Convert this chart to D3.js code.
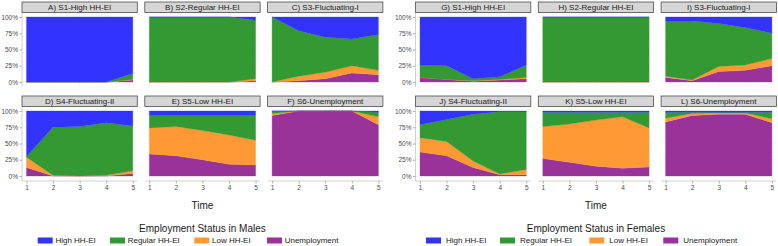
<!DOCTYPE html>
<html>
<head>
<meta charset="utf-8">
<script src="https://cdn.jsdelivr.net/npm/d3@7"></script>
<style>
  body { margin: 0; background: #fff; }
  text { font-family: "Liberation Sans", Arial, sans-serif; }
</style>
</head>
<body>
<div id="chart"></div>
<script>
// chart data: 5 time points, 4 employment states, 6 trajectory panels per sex
const times = [1, 2, 3, 4, 5];
const statuses = ["High HH-EI", "Regular HH-EI", "Low HH-EI", "Unemployment"];
const statusColors = ["#3333ff", "#339933", "#ff9933", "#993399"];
const yTicks = [0, 0.25, 0.5, 0.75, 1];

const maleTitles = ["A) S1-High HH-EI", "B) S2-Regular HH-EI", "C) S3-Fluctuating-I",
                    "D) S4-Fluctuating-II", "E) S5-Low HH-EI", "F) S6-Unemployment"];
const femaleTitles = ["G) S1-High HH-EI", "H) S2-Regular HH-EI", "I) S3-Fluctuating-I",
                      "J) S4-Fluctuating-II", "K) S5-Low HH-EI", "L) S6-Unemployment"];

// percentages per panel (rows = panels, cols = time 1..5)
const maleHigh = [[100,100,100,100,87],[0,0,0,0,5],[0,21,31,34,27],[70,25,24,18,23],[6,6,6,6,6],[0,0,0,0,2]];
const maleRegular = [[0,0,0,0,9],[100,100,100,100,90],[100,70,54,41,55],[1,74,76,81,69],[20,18,24,31,39],[4,0,0,0,7]];
const maleLow = [[0,0,0,0,1],[0,0,0,0,3],[0,7,10,11,7],[16,1,0,1,4],[40,45,45,45,38],[3,0,0,0,12]];
const maleUnemp = [[0,0,0,0,3],[0,0,0,0,2],[0,2,5,14,11],[13,0,0,0,4],[34,31,25,18,17],[93,100,100,100,79]];

const femaleHigh = [[74,75,95,92,74],[0,0,0,0,0],[6,6,10,16,25],[21,13,5,1,1],[2,2,2,2,2],[2,2,2,2,2]];
const femaleRegular = [[19,21,3,4,19],[100,100,100,100,100],[85,91,66,58,39],[20,34,72,96,89],[22,18,12,7,24],[9,2,1,1,10]];
const femaleLow = [[0,0,1,1,2],[0,0,0,0,0],[2,1,8,8,11],[22,22,10,1,8],[49,59,71,79,60],[6,3,2,2,6]];
const femaleUnemp = [[7,4,1,3,5],[0,0,0,0,0],[7,2,16,18,25],[37,31,13,2,2],[27,21,15,12,14],[83,93,95,95,82]];

// layout
const width = 778, height = 246;
const panelW = 106.3, colStep = 122.8;
const rowTops = [17, 111], plotH = 65;
const padX = 4.5, padTop = 4, padBottom = 5;
const font = "'Liberation Sans', Arial, sans-serif";

const groups = [
  { x0: 26.5, titles: maleTitles, high: maleHigh, reg: maleRegular, low: maleLow, unemp: maleUnemp,
    legendTitle: "Employment Status in Males", keyX: [37.7, 110, 194.3, 267], labelGap: 2.7 },
  { x0: 420, titles: femaleTitles, high: femaleHigh, reg: femaleRegular, low: femaleLow, unemp: femaleUnemp,
    legendTitle: "Employment Status in Females", keyX: [426, 500, 589.3, 663.3], labelGap: 5 }
];

const svg = d3.select("#chart").append("svg")
  .attr("width", width).attr("height", height)
  .style("background", "#fff");

const color = d3.scaleOrdinal().domain(statuses).range(statusColors);

// stack bottom-to-top: unemployment, low, regular, high
const stackKeys = ["Unemployment", "Low HH-EI", "Regular HH-EI", "High HH-EI"];
const stack = d3.stack().keys(stackKeys).offset(d3.stackOffsetExpand);

groups.forEach(g => {
  g.titles.forEach((title, p) => {
    const col = p % 3, row = Math.floor(p / 3);
    const left = g.x0 + col * colStep, right = left + panelW;
    const top = rowTops[row], bottom = top + plotH;

    const x = d3.scaleLinear().domain([1, 5]).range([left, right]);
    const y = d3.scaleLinear().domain([0, 1]).range([bottom, top]);

    const rows = times.map((t, i) => ({
      time: t,
      "High HH-EI": g.high[p][i],
      "Regular HH-EI": g.reg[p][i],
      "Low HH-EI": g.low[p][i],
      "Unemployment": g.unemp[p][i]
    }));
    const series = stack(rows);

    const panel = svg.append("g");

    // faint grid lines (only visible in the panel margins)
    panel.selectAll("line.gy").data(yTicks).enter().append("line")
      .attr("x1", left - padX).attr("x2", right + padX)
      .attr("y1", d => y(d)).attr("y2", d => y(d))
      .attr("stroke", "#ececec").attr("stroke-width", 0.5);
    panel.selectAll("line.gx").data(times).enter().append("line")
      .attr("x1", d => x(d)).attr("x2", d => x(d))
      .attr("y1", top - padTop).attr("y2", bottom + padBottom)
      .attr("stroke", "#ececec").attr("stroke-width", 0.5);

    const area = d3.area()
      .x(d => x(d.data.time))
      .y0(d => y(d[0]))
      .y1(d => y(d[1]));

    panel.selectAll("path.area").data(series).enter().append("path")
      .attr("d", area)
      .attr("fill", d => color(d.key))
      .attr("stroke", d => color(d.key))
      .attr("stroke-width", 0.3);

    // strip
    const stripTop = top - padTop - 11;
    panel.append("rect")
      .attr("x", left - padX).attr("y", stripTop)
      .attr("width", panelW + 2 * padX).attr("height", 10.5)
      .attr("fill", "#d6d6d6").attr("stroke", "#4d4d4d").attr("stroke-width", 0.8);
    panel.append("text")
      .attr("x", (left + right) / 2).attr("y", stripTop + 8.3)
      .attr("text-anchor", "middle")
      .attr("font-size", 8).attr("fill", "#1a1a1a")
      .text(title);

    // y axis on first column
    if (col === 0) {
      const ax = panel.append("g")
        .attr("transform", `translate(${left - padX},0)`)
        .call(d3.axisLeft(y).tickValues(yTicks).tickFormat(d3.format(".0%")).tickSize(2.5).tickPadding(1.5));
      ax.select(".domain").remove();
      ax.append("line").attr("y1", top - padTop).attr("y2", bottom + padBottom)
        .attr("stroke", "#b3b3b3").attr("stroke-width", 0.6);
      ax.selectAll(".tick line").attr("stroke", "#b3b3b3");
      ax.selectAll(".tick text").attr("font-size", 6.5).attr("fill", "#4d4d4d").style("font-family", font);
    }

    // x axis on bottom row
    if (row === 1) {
      const ax = panel.append("g")
        .attr("transform", `translate(0,${bottom + padBottom})`)
        .call(d3.axisBottom(x).tickValues(times).tickFormat(d3.format("d")).tickSize(2.5).tickPadding(2));
      ax.select(".domain").remove();
      ax.append("line").attr("x1", left - padX).attr("x2", right + padX)
        .attr("stroke", "#b3b3b3").attr("stroke-width", 0.6);
      ax.selectAll(".tick line").attr("stroke", "#b3b3b3");
      ax.selectAll(".tick text").attr("font-size", 6.5).attr("fill", "#4d4d4d").style("font-family", font);
    }
  });

  const mid = (g.x0 + g.x0 + 2 * colStep + panelW) / 2;

  svg.append("text")
    .attr("x", mid).attr("y", 209)
    .attr("text-anchor", "middle").attr("font-size", 10).attr("fill", "#1a1a1a")
    .text("Time");

  svg.append("text")
    .attr("x", mid).attr("y", 231.5)
    .attr("text-anchor", "middle").attr("font-size", 10).attr("fill", "#1a1a1a")
    .text(g.legendTitle);

  const legend = svg.append("g");
  statuses.forEach((s, i) => {
    legend.append("rect")
      .attr("x", g.keyX[i]).attr("y", 237.5)
      .attr("width", 15).attr("height", 6)
      .attr("fill", color(s));
    legend.append("text")
      .attr("x", g.keyX[i] + 15 + g.labelGap).attr("y", 243.3)
      .attr("font-size", 8).attr("fill", "#1a1a1a")
      .text(s);
  });
});
</script>
</body>
</html>
